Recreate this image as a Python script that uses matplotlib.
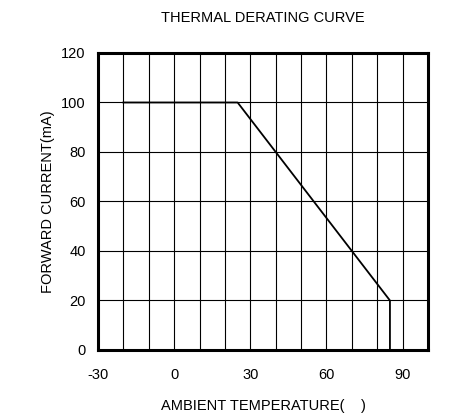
import matplotlib
matplotlib.use("Agg")
import matplotlib.pyplot as plt
import numpy as np

# derating curve data
temp = [-20, 25, 85, 85]
current = [100, 100, 20, 0]

x_ticks = [-30, 0, 30, 60, 90]
y_ticks = [0, 20, 40, 60, 80, 100, 120]

plt.rcParams['font.family'] = ['Liberation Sans Narrow', 'Liberation Sans', 'DejaVu Sans']
plt.rcParams['axes.unicode_minus'] = False

fig = plt.figure(figsize=(4.55, 4.16), dpi=100)
ax = fig.add_axes([0.2154, 0.1587, 0.7253, 0.7139])

ax.set_xlim(-30, 100)
ax.set_ylim(0, 120)

# grid every 10 degrees / 20 mA
for x in np.arange(-20, 100, 10):
    ax.axvline(x, color='black', lw=0.8, zorder=1)
for y in np.arange(20, 120, 20):
    ax.axhline(y, color='black', lw=0.8, zorder=1)

ax.plot(temp, current, color='black', lw=1.3, zorder=3)

ax.set_xticks(x_ticks)
ax.set_yticks(y_ticks)
ax.tick_params(length=0, labelsize=10.5)
ax.tick_params(axis='x', pad=13)
ax.tick_params(axis='y', pad=9)

for s in ax.spines.values():
    s.set_linewidth(2.2)

ax.set_title('THERMAL DERATING CURVE', fontsize=10.5, pad=22)
ax.set_xlabel('AMBIENT TEMPERATURE(    )', fontsize=10.5, labelpad=12)
ax.set_ylabel('FORWARD CURRENT(mA)', fontsize=10.5, labelpad=4)

fig.savefig('out.png', dpi=100)
